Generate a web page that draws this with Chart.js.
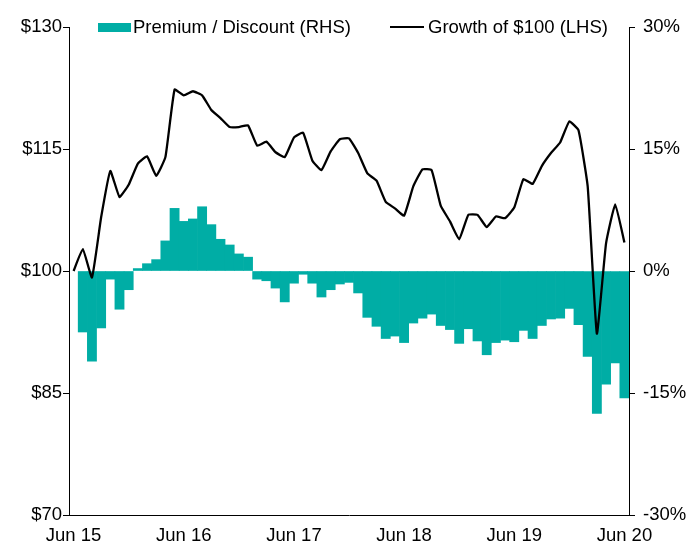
<!DOCTYPE html>
<html>
<head>
<meta charset="utf-8">
<script src="https://cdn.jsdelivr.net/npm/chart.js@4"></script>
<style>
  body { margin: 0; background: #fff; }
  #wrap { position: relative; width: 692px; height: 545px; font-family: "Liberation Sans", Arial, sans-serif; }
  .lg { position: absolute; font-size: 18.5px; line-height: 20px; color: #000; white-space: nowrap; }
</style>
</head>
<body>
<div id="wrap">
  <canvas id="chart" width="692" height="545"></canvas>
  <div style="position:absolute;left:98px;top:23px;width:33px;height:9px;background:#00ada5"></div>
  <div class="lg" style="left:133px;top:17px">Premium / Discount (RHS)</div>
  <div style="position:absolute;left:390px;top:26px;width:34px;height:2px;background:#000"></div>
  <div class="lg" style="left:428px;top:17px">Growth of $100 (LHS)</div>
</div>
<script>
// monthly points, Jun 15 .. Jun 20
const months = [
    'Jun 15','Jul 15','Aug 15','Sep 15','Oct 15','Nov 15','Dec 15','Jan 16','Feb 16','Mar 16','Apr 16','May 16',
    'Jun 16','Jul 16','Aug 16','Sep 16','Oct 16','Nov 16','Dec 16','Jan 17','Feb 17','Mar 17','Apr 17','May 17',
    'Jun 17','Jul 17','Aug 17','Sep 17','Oct 17','Nov 17','Dec 17','Jan 18','Feb 18','Mar 18','Apr 18','May 18',
    'Jun 18','Jul 18','Aug 18','Sep 18','Oct 18','Nov 18','Dec 18','Jan 19','Feb 19','Mar 19','Apr 19','May 19',
    'Jun 19','Jul 19','Aug 19','Sep 19','Oct 19','Nov 19','Dec 19','Jan 20','Feb 20','Mar 20','Apr 20','May 20',
    'Jun 20'
];
const xTickLabels = ['Jun 15', 'Jun 16', 'Jun 17', 'Jun 18', 'Jun 19', 'Jun 20'];

// Growth of $100 (LHS)
const growth = [
    100.0, 102.7, 99.2, 106.6, 112.3, 109.1, 110.6, 113.2, 114.1, 111.7, 114.0, 122.3,
    121.6, 122.1, 121.6, 119.8, 118.8, 117.7, 117.7, 117.9, 115.4, 115.9, 114.6, 114.0,
    116.4, 117.0, 113.6, 112.4, 114.7, 116.2, 116.3, 114.5, 112.0, 111.1, 108.5, 107.7,
    106.8, 110.4, 112.5, 112.4, 108.0, 106.1, 103.9, 106.9, 106.9, 105.4, 106.7, 106.5,
    107.8, 111.3, 110.7, 112.9, 114.5, 115.8, 118.4, 117.3, 110.4, 92.3, 103.4, 108.2,
    103.5
];

// Premium / Discount in % (RHS)
const premium = [
    null, -7.5, -11.1, -7.0, -1.0, -4.7, -2.3, 0.3, 0.9, 1.4, 3.7, 7.7,
    6.1, 6.4, 7.9, 5.7, 3.9, 3.2, 2.1, 1.7, -1.0, -1.2, -2.1, -3.8,
    -1.5, -0.4, -1.5, -3.2, -2.3, -1.6, -1.4, -2.7, -5.7, -6.8, -8.3, -8.0,
    -8.8, -6.4, -5.8, -5.3, -6.7, -7.2, -8.9, -7.1, -8.6, -10.3, -8.8, -8.5,
    -8.7, -7.3, -8.3, -6.7, -5.9, -5.8, -4.6, -6.6, -10.5, -17.5, -13.9, -11.3,
    -15.6
];

const font = { family: '"Liberation Sans", Arial, sans-serif', size: 18.5 };

const ctx = document.getElementById('chart').getContext('2d');
new Chart(ctx, {
    data: {
        labels: months,
        datasets: [
            {
                type: 'line',
                label: 'Growth of $100 (LHS)',
                data: growth,
                yAxisID: 'y',
                borderColor: '#000',
                borderWidth: 2.3,
                pointRadius: 0,
                tension: 0.12,
                order: 0
            },
            {
                type: 'bar',
                label: 'Premium / Discount (RHS)',
                data: premium,
                yAxisID: 'y2',
                backgroundColor: '#00ada5',
                borderWidth: 0,
                barPercentage: 1,
                categoryPercentage: 1,
                order: 1
            }
        ]
    },
    options: {
        responsive: false,
        animation: false,
        devicePixelRatio: 1,
        layout: { padding: { top: 27, left: 0, right: 0, bottom: 0 } },
        plugins: {
            legend: { display: false },
            tooltip: { enabled: false }
        },
        scales: {
            x: {
                offset: true,
                grid: { display: false },
                border: { color: '#000', width: 1 },
                ticks: {
                    autoSkip: false,
                    maxRotation: 0,
                    padding: 2,
                    color: '#000',
                    font: font,
                    callback: function(v) {
                        const lbl = months[v];
                        return xTickLabels.includes(lbl) ? lbl : '';
                    }
                },
                afterFit: function(scale) { scale.height = 30; }
            },
            y: {
                position: 'left',
                min: 70,
                max: 130,
                grid: { drawOnChartArea: false, tickLength: 6, color: '#000' },
                border: { color: '#000', width: 1 },
                ticks: {
                    stepSize: 15,
                    padding: 1,
                    color: '#000',
                    font: font,
                    callback: v => '$' + v
                },
                afterFit: function(scale) { scale.width = 69; }
            },
            y2: {
                position: 'right',
                min: -30,
                max: 30,
                grid: { drawOnChartArea: false, tickLength: 6, color: '#000' },
                border: { color: '#000', width: 1 },
                ticks: {
                    stepSize: 15,
                    padding: 8,
                    color: '#000',
                    font: font,
                    callback: v => v + '%'
                },
                afterFit: function(scale) { scale.width = 63; }
            }
        }
    }
});
</script>
</body>
</html>
